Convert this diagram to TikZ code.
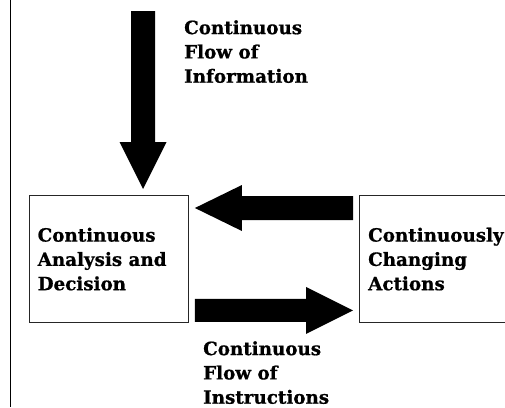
\documentclass[tikz,border=0pt]{standalone}
\usepackage{fontspec}
\setmainfont{DejaVu Serif}[BoldFeatures={FakeBold=0.8}]
\usetikzlibrary{calc}
\tikzset{
  box/.style={draw=black!85, line width=0.9pt, fill=white},
  lbl/.style={anchor=north west, inner sep=0pt, align=left, font=\bfseries\fontsize{18.3pt}{24.3pt}\selectfont},
  fat/.style={fill=black, draw=none}
}
\begin{document}
\begin{tikzpicture}[x=1pt,y=-1pt]
\useasboundingbox (0,0) rectangle (505,407);
\clip (0,0) rectangle (505,407);
% left border line
\coordinate (bt) at (10.5,0);
\coordinate (bb) at (10.5,407);
\draw[line width=1.5pt] (bt) -- (bb);
% boxes
\node[box, minimum width=159pt, minimum height=127pt, anchor=north west, inner sep=0pt] (ad) at (29,195) {};
\node[box, minimum width=170pt, minimum height=127pt, anchor=north west, inner sep=0pt] (ca) at (359,195) {};
% labels
\node[lbl] (t1) at (184,20) {Continuous\\Flow of\\Information};
\node[lbl] (t2) at (37.5,227.5) {Continuous\\Analysis and\\Decision};
\node[lbl] (t3) at (368,227.5) {Continuously\\Changing\\Actions};
\node[lbl] (t4) at (203,341) {Continuous\\Flow of\\Instructions};
% down arrow: information -> analysis
\coordinate (d0) at (143,11);
\coordinate (d1) at (143,189);
\fill[fat] ($(d0)+(-12,0)$) -- ($(d0)+(12,0)$) -- ($(d1)+(12,-47)$) -- ($(d1)+(23.5,-47)$) -- (d1)
  -- ($(d1)+(-23.5,-47)$) -- ($(d1)+(-12,-47)$) -- cycle;
% left arrow: actions -> analysis
\coordinate (l0) at ($(ca.north west)+(-6,13)$);
\coordinate (l1) at ($(ad.north east)+(6,13)$);
\fill[fat] ($(l0)+(0,-12)$) -- ($(l0)+(0,12)$) -- ($(l1)+(47,12)$) -- ($(l1)+(47,23)$) -- (l1)
  -- ($(l1)+(47,-23)$) -- ($(l1)+(47,-12)$) -- cycle;
% right arrow: analysis -> actions
\coordinate (r0) at ($(ad.south east)+(6,-12.5)$);
\coordinate (r1) at ($(ca.south west)+(-6,-12.5)$);
\fill[fat] ($(r0)+(0,-11.5)$) -- ($(r0)+(0,11.5)$) -- ($(r1)+(-47,11.5)$) -- ($(r1)+(-47,23.5)$) -- (r1)
  -- ($(r1)+(-47,-23.5)$) -- ($(r1)+(-47,-11.5)$) -- cycle;
\end{tikzpicture}
\end{document}
